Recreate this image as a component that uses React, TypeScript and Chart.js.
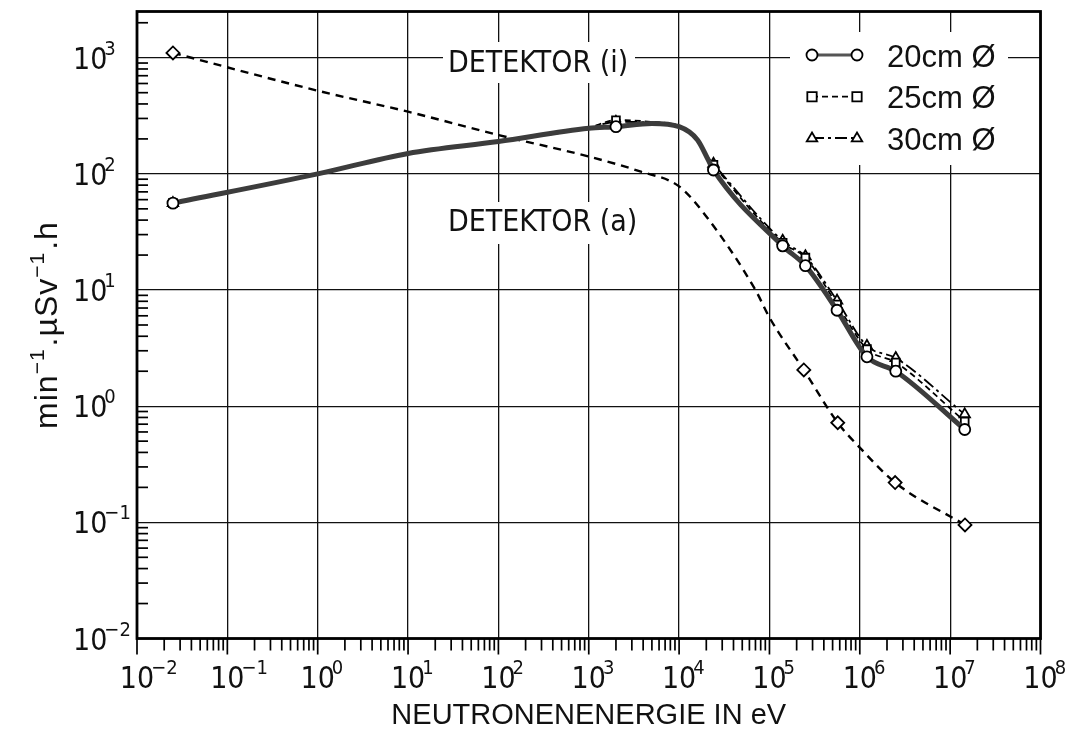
import React, { useEffect, useRef } from "react";
import { Chart, registerables } from "chart.js";

Chart.register(...registerables);

// ---------------- data ----------------
const X_TICK_EXPONENTS = [-2, -1, 0, 1, 2, 3, 4, 5, 6, 7, 8];
const Y_TICK_EXPONENTS = [-2, -1, 0, 1, 2, 3];
const X_MIN = 1e-2;
const X_MAX = 1e8;
const Y_MIN = 1e-2;
const Y_MAX = 2500;

const X_TITLE = "NEUTRONENENERGIE IN eV";
const Y_TITLE_PARTS: [string, boolean][] = [
  ["min", false],
  ["\u22121", true],
  [".\u00b5Sv", false],
  ["\u22121", true],
  [".h", false],
];
const SERIES_LABELS = ["20cm \u00d8", "25cm \u00d8", "30cm \u00d8"];
const LABEL_I = "DETEKTOR (i)";
const LABEL_A = "DETEKTOR (a)";

// detector (i): energies (eV) of the drawn curves and of the measured points
const ENERGY_I = [0.025, 1, 10, 100, 1000, 2000, 5000, 10000, 16000, 21000, 24000, 140000, 250000, 560000, 1.2e6, 2.5e6, 1.45e7];
const MEASURED_I = [0.025, 2000, 24000, 140000, 250000, 560000, 1.2e6, 2.5e6, 1.45e7];
const VALUES_20 = [56, 100, 150, 190, 247, 255, 272, 255, 196, 132, 108, 24, 16.2, 6.7, 2.66, 2.0, 0.63];
const VALUES_25 = [56, 100, 150, 190, 250, 290, 280, 258, 200, 138, 120, 25.5, 19, 7.5, 3.1, 2.38, 0.74];
const VALUES_30 = [56, 100, 150, 190, 250, 280, 278, 258, 200, 138, 122, 26.5, 19.5, 8.1, 3.3, 2.6, 0.85];

// detector (a)
const ENERGY_A = [0.025, 1, 10, 100, 1000, 3700, 10000, 20000, 70000, 100000, 240000, 570000, 1e6, 2.46e6, 1.46e7];
const MEASURED_A = [0.025, 240000, 570000, 2.46e6, 1.46e7];
const VALUES_A = [1100, 520, 343, 216, 141, 105, 78, 43, 10, 5.8, 2.05, 0.72, 0.44, 0.22, 0.095];

// ---------------- styling ----------------
const FONT = "'Liberation Sans', Arial, sans-serif";
const NARROW = "'Liberation Sans Narrow', 'DejaVu Sans Condensed', 'Liberation Sans', sans-serif";
const INK = "#111";

const zip = (xs: number[], ys: number[]) => xs.map((x, i) => ({ x, y: ys[i] }));

function drawMarker(ctx: CanvasRenderingContext2D, style: string, x: number, y: number, r: number) {
  ctx.save();
  ctx.setLineDash([]);
  ctx.fillStyle = "#fff";
  ctx.strokeStyle = "#000";
  ctx.lineWidth = 1.8;
  ctx.beginPath();
  if (style === "circle") ctx.arc(x, y, r, 0, Math.PI * 2);
  else if (style === "rect") ctx.rect(x - r * 0.85, y - r * 0.85, r * 1.7, r * 1.7);
  else if (style === "triangle") {
    ctx.moveTo(x, y - r);
    ctx.lineTo(x + r * 0.95, y + r * 0.6);
    ctx.lineTo(x - r * 0.95, y + r * 0.6);
    ctx.closePath();
  }
  ctx.fill();
  ctx.stroke();
  ctx.restore();
}

function drawPow(ctx: CanvasRenderingContext2D, exp: string, x: number, baseline: number, big: number, small: number, raise: number) {
  ctx.textAlign = "left";
  ctx.textBaseline = "alphabetic";
  ctx.font = `${big}px ${NARROW}`;
  ctx.fillText("10", x, baseline);
  const w1 = ctx.measureText("10").width;
  ctx.font = `${small}px ${NARROW}`;
  ctx.fillText(exp, x + w1 - 3, baseline - raise);
}

const expText = (e: number) => (e < 0 ? "\u2212" + Math.abs(e) : String(e));

const decorPlugin = {
  id: "decor",
  beforeDatasetsDraw(chart: any) {
    const ctx: CanvasRenderingContext2D = chart.ctx;
    ctx.save();
    // white boxes behind annotation labels
    ctx.fillStyle = "#fff";
    ctx.fillRect(443, 42, 192, 41);
    ctx.fillRect(443, 202, 196, 42);
    // legend box
    ctx.fillRect(790, 32, 218, 133);

    ctx.fillStyle = INK;
    ctx.font = `30px ${NARROW}`;
    ctx.textAlign = "left";
    ctx.textBaseline = "middle";
    ctx.fillText(LABEL_I, 448, 64);
    ctx.fillText(LABEL_A, 448, 223);

    // legend entries
    const rows = [55, 96.7, 138];
    chart.data.datasets.slice(0, 3).forEach((ds: any, i: number) => {
      const y = rows[i];
      ctx.save();
      ctx.strokeStyle = i === 0 ? "#555" : "#000";
      ctx.lineWidth = i === 0 ? 3 : 1.8;
      ctx.setLineDash(ds.borderDash || []);
      ctx.beginPath();
      ctx.moveTo(812, y);
      ctx.lineTo(857, y);
      ctx.stroke();
      ctx.restore();
      drawMarker(ctx, ds.pointStyle, 812, y, 5.5);
      drawMarker(ctx, ds.pointStyle, 857, y, 5.5);
      ctx.fillStyle = INK;
      ctx.font = `31px ${FONT}`;
      ctx.textAlign = "left";
      ctx.textBaseline = "middle";
      ctx.fillText(SERIES_LABELS[i], 887, y + 3);
    });
    ctx.restore();
  },
  afterDraw(chart: any) {
    const ctx: CanvasRenderingContext2D = chart.ctx;
    const { left, right, top, bottom } = chart.chartArea;
    const xs = chart.scales.x;
    const ys = chart.scales.y;
    ctx.save();
    ctx.strokeStyle = "#000";
    ctx.setLineDash([]);
    // minor / major ticks on the x axis (outward)
    ctx.lineWidth = 1.7;
    for (let d = -2; d <= 8; d++) {
      const px = xs.getPixelForValue(Math.pow(10, d));
      ctx.beginPath();
      ctx.moveTo(px, bottom);
      ctx.lineTo(px, bottom + 16);
      ctx.stroke();
      if (d === 8) break;
      for (let m = 2; m <= 9; m++) {
        const p = xs.getPixelForValue(m * Math.pow(10, d));
        ctx.beginPath();
        ctx.moveTo(p, bottom);
        ctx.lineTo(p, bottom + 12);
        ctx.stroke();
      }
    }
    // minor ticks on the y axis (inward)
    for (let d = -2; d <= 3; d++) {
      for (let m = 2; m <= 9; m++) {
        const v = m * Math.pow(10, d);
        if (v > Y_MAX) break;
        const p = ys.getPixelForValue(v);
        ctx.beginPath();
        ctx.moveTo(left, p);
        ctx.lineTo(left + 11, p);
        ctx.stroke();
      }
    }
    // frame
    ctx.lineWidth = 2.8;
    ctx.strokeRect(left, top, right - left, bottom - top);

    // tick labels
    ctx.fillStyle = INK;
    X_TICK_EXPONENTS.forEach((e) => {
      const px = xs.getPixelForValue(Math.pow(10, e));
      ctx.font = `30px ${NARROW}`;
      const w1 = ctx.measureText("10").width;
      drawPow(ctx, expText(e), px - w1 / 2, 688, 30, 20, 14);
    });
    Y_TICK_EXPONENTS.forEach((e) => {
      const py = ys.getPixelForValue(Math.pow(10, e));
      drawPow(ctx, expText(e), 73, py + 11, 30, 20, 14);
    });

    // x title
    ctx.font = `29px ${FONT}`;
    ctx.textAlign = "center";
    ctx.textBaseline = "alphabetic";
    ctx.fillText(X_TITLE, (left + right) / 2, 724);

    // y title (rotated)
    ctx.save();
    ctx.translate(57, (top + bottom) / 2);
    ctx.rotate(-Math.PI / 2);
    (ctx as any).letterSpacing = "1px";
    const big = 32;
    const small = 21;
    let total = 0;
    const widths = Y_TITLE_PARTS.map(([t, sup]) => {
      ctx.font = `${sup ? small : big}px ${FONT}`;
      const w = ctx.measureText(t).width + (sup ? 2 : 0);
      total += w;
      return w;
    });
    let cx = -total / 2;
    ctx.textAlign = "left";
    ctx.textBaseline = "alphabetic";
    Y_TITLE_PARTS.forEach(([t, sup], i) => {
      ctx.font = `${sup ? small : big}px ${FONT}`;
      ctx.fillText(t, cx, sup ? -13 : 0);
      cx += widths[i];
    });
    ctx.restore();
    ctx.restore();
  },
};

export default function App() {
  const ref = useRef<HTMLCanvasElement | null>(null);
  useEffect(() => {
    document.body.style.margin = "0";
    const canvas = ref.current;
    if (!canvas) return;
    const markI = (ctx: any) => (MEASURED_I.includes(ENERGY_I[ctx.dataIndex]) ? 5.5 : 0);
    const markA = (ctx: any) => (MEASURED_A.includes(ENERGY_A[ctx.dataIndex]) ? 6.5 : 0);
    const common = {
      fill: false,
      cubicInterpolationMode: "monotone" as const,
      pointBackgroundColor: "#fff",
      pointBorderColor: "#000",
      pointBorderWidth: 1.8,
      pointHoverRadius: 0,
    };
    const chart = new Chart(canvas, {
      type: "line",
      data: {
        datasets: [
          { ...common, label: SERIES_LABELS[0], data: zip(ENERGY_I, VALUES_20), borderColor: "#3c3c3c", borderWidth: 5, pointStyle: "circle", pointRadius: markI },
          { ...common, label: SERIES_LABELS[1], data: zip(ENERGY_I, VALUES_25), borderColor: "#000", borderWidth: 1.8, borderDash: [6, 4], pointStyle: "rect", pointRadius: markI },
          { ...common, label: SERIES_LABELS[2], data: zip(ENERGY_I, VALUES_30), borderColor: "#000", borderWidth: 1.8, borderDash: [12, 4, 3, 4], pointStyle: "triangle", pointRadius: (c: any) => markI(c) * 1.1 },
          { ...common, label: LABEL_A, data: zip(ENERGY_A, VALUES_A), borderColor: "#000", borderWidth: 2.4, borderDash: [8, 6], pointStyle: "rectRot", pointRadius: markA },
        ],
      },
      options: {
        animation: false,
        responsive: false,
        devicePixelRatio: 1,
        layout: { padding: { top: 11.5, right: 24.5, left: 0, bottom: 0 } },
        plugins: { legend: { display: false }, tooltip: { enabled: false } },
        scales: {
          x: {
            type: "logarithmic",
            min: X_MIN,
            max: X_MAX,
            afterBuildTicks: (axis: any) => {
              axis.ticks = X_TICK_EXPONENTS.map((e) => ({ value: Math.pow(10, e) }));
            },
            afterFit: (axis: any) => {
              axis.height = 90.5;
            },
            ticks: { display: false },
            grid: { color: "#111", lineWidth: 1.3, drawTicks: false },
            border: { display: false },
          },
          y: {
            type: "logarithmic",
            min: Y_MIN,
            max: Y_MAX,
            afterBuildTicks: (axis: any) => {
              axis.ticks = Y_TICK_EXPONENTS.map((e) => ({ value: Math.pow(10, e) }));
            },
            afterFit: (axis: any) => {
              axis.width = 137;
            },
            ticks: { display: false },
            grid: { color: "#111", lineWidth: 1.3, drawTicks: false },
            border: { display: false },
          },
        },
      } as any,
      plugins: [decorPlugin],
    });
    return () => chart.destroy();
  }, []);
  return (
    <div style={{ width: 1065, height: 729, background: "#fff" }}>
      <canvas ref={ref} width={1065} height={729} style={{ display: "block", width: 1065, height: 729 }} />
    </div>
  );
}
